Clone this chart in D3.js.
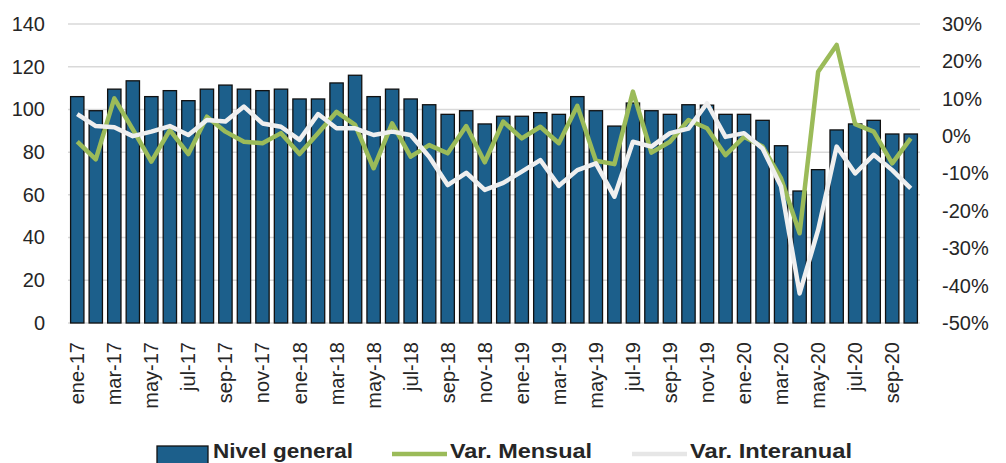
<!DOCTYPE html>
<html><head><meta charset="utf-8">
<script src="https://cdn.jsdelivr.net/npm/d3@7"></script>
<style>body{margin:0;background:#fff}svg{display:block}</style>
</head><body>
<svg id="c" width="1006" height="463"></svg>
<script>
const months = ["ene","feb","mar","abr","may","jun","jul","ago","sep","oct","nov","dic"];
const categories = [];
for (const y of ["17","18","19","20"]) for (const m of months) categories.push(m + "-" + y);
categories.length = 46; // ene-17 .. oct-20

const nivelGeneral = [106,99.4,109.5,113.4,106,108.8,104.1,109.5,111.4,109.5,108.8,109.5,
  104.9,104.9,112.4,116,106,109.5,104.9,102.2,97.7,99.4,93.2,96.8,
  96.8,98.5,97.7,106,99.4,92.2,103,99.4,97.7,102.2,102,97.7,
  97.7,94.9,83,61.8,71.8,90.4,93.2,94.9,88.5,88.5];
const varMensual = [-1.5,-6.2,10.1,1.8,-6.8,1.6,-4.8,5.2,1.2,-1.5,-1.9,0.8,
  -4.8,0.8,6.5,3.0,-8.6,3.4,-5.5,-2.4,-4.6,2.7,-7.0,3.9,
  -0.6,2.5,-1.9,8.1,-6.6,-7.5,11.9,-4.4,-1.5,4.3,2.1,-5.1,
  -0.2,-2.8,-11.3,-26.0,17.2,24.4,3.2,1.2,-7.3,-0.6];
const varInteranual = [5.9,2.7,2.4,0.0,1.2,2.7,0.3,4.3,3.9,7.9,3.4,2.5,
  -1.0,5.9,2.1,2.1,0.3,1.2,0.3,-5.5,-13.1,-9.8,-14.4,-12.5,
  -9.5,-6.4,-13.3,-9.1,-7.3,-16.2,-1.5,-2.8,0.8,2.0,8.8,-0.2,
  0.8,-3.3,-13.5,-42.1,-25.1,-2.8,-10.0,-5.0,-9.1,-14.0];
const leftTicks = [0,20,40,60,80,100,120,140];
const rightTicks = [30,20,10,0,-10,-20,-30,-40,-50];
const legendLabels = ["Nivel general","Var. Mensual","Var. Interanual"];

const svg = d3.select("#c");
const L = 68, R = 920, T = 24, B = 323;
const FONT = "'Liberation Sans', Arial, sans-serif";

const x = d3.scaleBand().domain(categories).range([L, R]).paddingInner(0.28).paddingOuter(0.14);
const yL = d3.scaleLinear().domain([0,140]).range([B, T]);
const yR = d3.scaleLinear().domain([-50,30]).range([B, T]);

// gridlines
svg.append("g").selectAll("line").data(leftTicks).join("line")
  .attr("x1", L).attr("x2", R)
  .attr("y1", d => yL(d)).attr("y2", d => yL(d))
  .attr("stroke", "#d9d9d9").attr("stroke-width", 1.5);

// left axis
const gl = svg.append("g").attr("transform", `translate(${L},0)`)
  .call(d3.axisLeft(yL).tickValues(leftTicks).tickSize(0).tickPadding(23));
gl.select(".domain").remove();
gl.selectAll("text").attr("font-family", FONT).attr("font-size", 20).attr("fill", "#262626");

// right axis
const gr = svg.append("g").attr("transform", `translate(${R},0)`)
  .call(d3.axisRight(yR).tickValues(rightTicks).tickSize(0).tickPadding(22).tickFormat(d => d + "%"));
gr.select(".domain").remove();
gr.selectAll("text").attr("font-family", FONT).attr("font-size", 20).attr("fill", "#262626");

// bottom axis
const gb = svg.append("g").attr("transform", `translate(0,${B})`)
  .call(d3.axisBottom(x).tickValues(categories.filter((d,i) => i % 2 === 0)).tickSize(0));
gb.select(".domain").remove();
gb.selectAll("text")
  .attr("font-family", FONT).attr("font-size", 20).attr("fill", "#262626")
  .attr("transform", "rotate(-90)")
  .attr("text-anchor", "end")
  .attr("x", -19).attr("y", 0).attr("dy", "0.35em");

// bars
svg.append("g").selectAll("rect").data(nivelGeneral).join("rect")
  .attr("x", (d,i) => x(categories[i]))
  .attr("width", x.bandwidth())
  .attr("y", d => yL(d))
  .attr("height", d => yL(0) - yL(d))
  .attr("fill", "#1c5f8b").attr("stroke", "#111").attr("stroke-width", 1.3);

const cx = i => x(categories[i]) + x.bandwidth()/2;
const line = d3.line().x((d,i) => cx(i)).y(d => yR(d));

svg.append("path").datum(varMensual).attr("d", line)
  .attr("fill", "none").attr("stroke", "#9bbb59").attr("stroke-width", 4.5).attr("stroke-linejoin", "round");
svg.append("path").datum(varInteranual).attr("d", line)
  .attr("fill", "none").attr("stroke", "#efefef").attr("stroke-width", 4.5).attr("stroke-linejoin", "round");

// legend
const lg = svg.append("g");
const ly = 454;
lg.append("rect").attr("x", 157).attr("y", 446).attr("width", 51).attr("height", 18)
  .attr("fill", "#1c5f8b").attr("stroke", "#111").attr("stroke-width", 1.3);
lg.append("line").attr("x1", 392).attr("x2", 447).attr("y1", ly).attr("y2", ly)
  .attr("stroke", "#9bbb59").attr("stroke-width", 4.5);
lg.append("line").attr("x1", 632).attr("x2", 687).attr("y1", ly).attr("y2", ly)
  .attr("stroke", "#e6e6e6").attr("stroke-width", 4.5);
const legX = [213, 450, 690], legW = [140, 142, 162];
lg.selectAll("text").data(legendLabels).join("text")
  .attr("x", (d,i) => legX[i]).attr("y", 458)
  .attr("font-family", FONT).attr("font-size", 21).attr("font-weight", "bold").attr("fill", "#262626")
  .attr("textLength", (d,i) => legW[i]).attr("lengthAdjust", "spacingAndGlyphs")
  .text(d => d);
</script>
</body></html>
